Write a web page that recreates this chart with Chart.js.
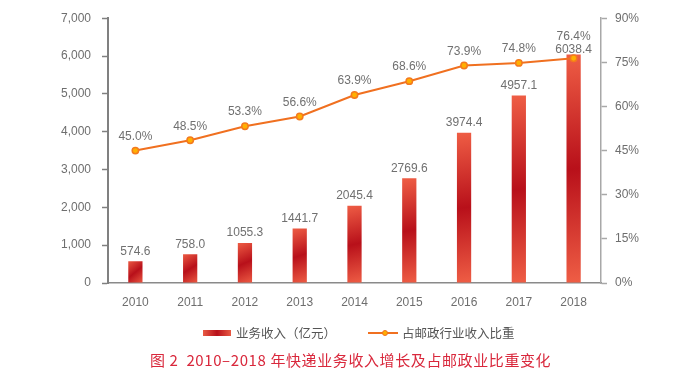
<!DOCTYPE html>
<html><head><meta charset="utf-8">
<script src="https://cdn.jsdelivr.net/npm/chart.js@4/dist/chart.umd.min.js"></script>
<style>
html,body{margin:0;padding:0;background:#fff;}
#wrap{position:relative;width:699px;height:380px;}
canvas{position:absolute;left:0;top:0;}
.leg{position:absolute;top:323px;font-family:"Noto Sans CJK SC","Liberation Sans",sans-serif;font-size:12.5px;color:#555;white-space:nowrap;line-height:20px;}
.sw1{position:absolute;left:203px;top:330px;width:28px;height:6px;background:linear-gradient(90deg,#e85a44,#b8101a 50%,#e85a44);}
.sw2{position:absolute;left:368px;top:332px;width:30px;height:2px;background:#f07020;}
.dot{position:absolute;left:382px;top:330px;width:4px;height:4px;border-radius:50%;background:#ffb000;border:1px solid #f07020;box-sizing:content-box;}
#cap{position:absolute;left:150px;top:349px;font-family:"Noto Sans CJK SC",sans-serif;font-size:15px;letter-spacing:0.6px;color:#d9283c;white-space:nowrap;line-height:22px;}
</style></head>
<body><div id="wrap"><canvas id="c" width="699" height="380"></canvas>
<div class="sw1"></div><div class="leg" style="left:236px">业务收入（亿元）</div>
<div class="sw2"></div><div class="dot"></div><div class="leg" style="left:402px">占邮政行业收入比重</div>
<div id="cap">图 2&nbsp; 2010–2018 年快递业务收入增长及占邮政业比重变化</div>
</div>
<script>
const years = ['2010','2011','2012','2013','2014','2015','2016','2017','2018'];
const revenue = [574.6, 758.0, 1055.3, 1441.7, 2045.4, 2769.6, 3974.4, 4957.1, 6038.4];
const share = [45.0, 48.5, 53.3, 56.6, 63.9, 68.6, 73.9, 74.8, 76.4];
const leftTicks = [0,1000,2000,3000,4000,5000,6000,7000];
const rightTicks = [0,15,30,45,60,75,90];

const numFont = {family:'"Liberation Sans", Arial, sans-serif', size:12};

function barGrad(ctx){
  const chart = ctx.chart;
  if(!chart.chartArea || !chart.scales.y) return '#d02a25';
  const i = ctx.dataIndex;
  const yT = chart.scales.y.getPixelForValue(revenue[i]);
  const yB = chart.scales.y.getPixelForValue(0);
  const x = chart.scales.x.getPixelForValue(i);
  const g = chart.ctx.createLinearGradient(x-9, yT, x+9, yB);
  g.addColorStop(0,'#ef5e45');
  g.addColorStop(0.5,'#b8101a');
  g.addColorStop(1,'#ef5e45');
  return g;
}

const labelPlugin = {
  id:'labels',
  afterDatasetsDraw(chart){
    const c = chart.ctx;
    c.save();
    c.font = '12px "Liberation Sans", Arial, sans-serif';
    c.fillStyle = '#707070';
    c.textAlign = 'center';
    c.textBaseline = 'middle';
    const last = revenue.length-1;
    chart.getDatasetMeta(0).data.forEach((el,i)=>{
      const off = i===last ? 5 : 10;
      c.fillText(revenue[i].toFixed(1), el.x, el.y - off);
    });
    chart.getDatasetMeta(1).data.forEach((el,i)=>{
      const off = i===last ? 22 : 14;
      c.fillText(share[i].toFixed(1)+'%', el.x, el.y - off);
    });
    c.restore();
  }
};

new Chart(document.getElementById('c'), {
  data:{
    labels: years,
    datasets:[
      {type:'bar', data:revenue, yAxisID:'y', order:2, backgroundColor:barGrad, barPercentage:0.52, categoryPercentage:0.5},
      {type:'line', data:share, yAxisID:'y1', order:1, borderColor:'#f07020', borderWidth:2, pointRadius:3.2, pointBackgroundColor:'#ffb000', pointBorderColor:'#f47a1e', pointBorderWidth:1.5, tension:0}
    ]
  },
  options:{
    responsive:false, animation:false,
    layout:{padding:{left:0,right:0,top:17,bottom:67}},
    plugins:{legend:{display:false}, tooltip:{enabled:false}},
    scales:{
      x:{
        offset:true,
        grid:{display:false, drawTicks:false},
        border:{display:true, color:'#8a8a8a', width:1.5},
        ticks:{color:'#6e6e6e', font:numFont, padding:12, maxRotation:0},
        afterFit(s){ s.height = 30; }
      },
      y:{
        position:'left', min:0, max:7000,
        afterBuildTicks(s){ s.ticks = leftTicks.map(v=>({value:v})); },
        grid:{display:true, drawOnChartArea:false, drawTicks:true, tickLength:6, color:'#808080', tickWidth:1.5},
        border:{display:true, color:'#808080', width:2},
        ticks:{color:'#6e6e6e', font:numFont, padding:11, callback:v=>v.toLocaleString('en-US')},
        afterFit(s){ s.width = 108; }
      },
      y1:{
        position:'right', min:0, max:90,
        afterBuildTicks(s){ s.ticks = rightTicks.map(v=>({value:v})); },
        grid:{display:true, drawOnChartArea:false, drawTicks:true, tickLength:6, color:'#a8a8a8', tickWidth:1.5},
        border:{display:true, color:'#a8a8a8', width:1.5},
        ticks:{color:'#6e6e6e', font:numFont, padding:8, callback:v=>v+'%'},
        afterFit(s){ s.width = 98; }
      }
    }
  },
  plugins:[labelPlugin]
});
</script>
</body></html>
